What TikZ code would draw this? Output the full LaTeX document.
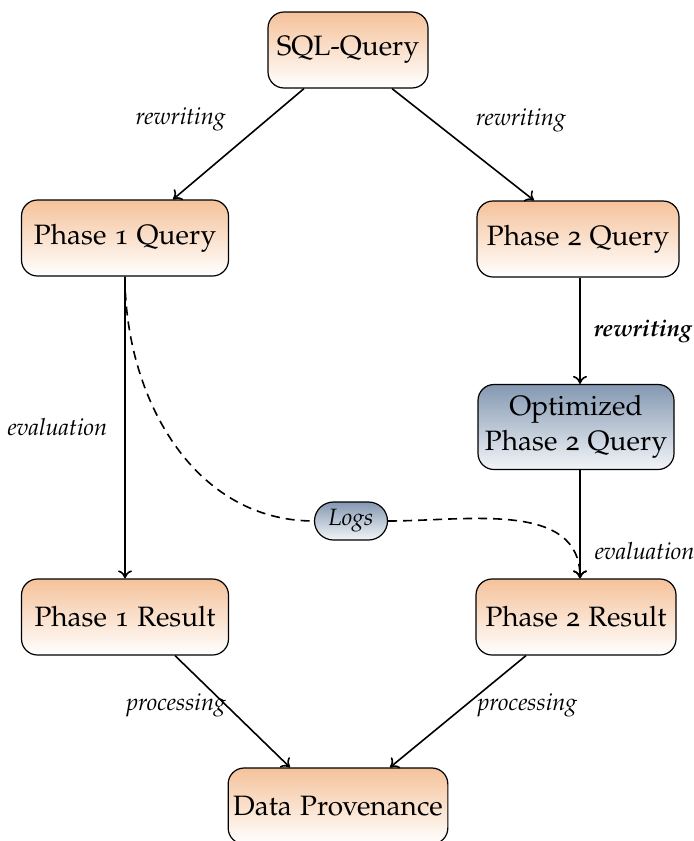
\documentclass[tikz,border=0pt]{standalone}
\usepackage[T1]{fontenc}
\usepackage[osf]{mathpazo}
\usetikzlibrary{arrows.meta}

\definecolor{peach}{RGB}{245,194,154}
\definecolor{steel}{RGB}{132,152,178}
\definecolor{mist}{RGB}{242,245,248}

\begin{document}
\begin{tikzpicture}[x=0.5pt,y=-0.5pt,
  box/.style={draw, rounded corners=8pt, line width=0.6pt,
    top color=peach, bottom color=white,
    minimum height=38pt, inner sep=3pt, align=center,
    font=\fontsize{14}{17.5}\selectfont},
  bluebox/.style={box, top color=steel, bottom color=mist},
  lbl/.style={font=\fontsize{11.8}{14}\selectfont\itshape, inner sep=2pt},
  flow/.style={-{To[length=4pt,width=7pt]}, line width=0.8pt},
  trace/.style={dash pattern=on 4.5pt off 3pt, line width=0.8pt},
]
\useasboundingbox (0,0) rectangle (693,841);

% query nodes
\node[box, minimum width=80pt]   (sql) at (348,50)  {SQL-Query};
\node[box, minimum width=103.5pt] (p1q) at (125,238) {Phase 1 Query};
\node[box, minimum width=101pt]  (p2q) at (578,239) {Phase 2 Query};
\node[bluebox, minimum width=98pt, minimum height=42.5pt] (opt) at (576,427) {Optimized\\Phase 2 Query};
\node[bluebox, rounded corners=9.5pt, minimum width=36.5pt, minimum height=19pt,
      inner sep=1pt, font=\fontsize{11.8}{14}\selectfont\itshape] (logs) at (351,521) {Logs};

% result nodes
\node[box, minimum width=103.5pt] (p1r) at (125,617) {Phase 1 Result};
\node[box, minimum width=100pt]   (p2r) at (576,617) {Phase 2 Result};
\node[box, inner xsep=2.5pt, minimum width=104.5pt] (dp)  at (338,806) {Data Provenance};

% rewriting steps
\draw[flow] ([xshift=-22pt]sql.south) -- node[lbl, midway, above left=4pt] {rewriting} ([xshift=24pt]p1q.north);
\draw[flow] ([xshift=22pt]sql.south) -- node[lbl, midway, above right=4pt] {rewriting} ([xshift=-22pt]p2q.north);
\draw[flow] ([xshift=1pt]p2q.south) -- node[lbl, midway, right=4.5pt] {\bfseries rewriting} ([xshift=2pt]opt.north);

% evaluation steps
\draw[flow] (p1q.south) -- node[lbl, midway, left=6.5pt] {evaluation} (p1r.north);
\draw[flow] ([xshift=2pt]opt.south) -- node[lbl, pos=0.75, right=5pt] {evaluation} ([xshift=2pt]p2r.north);

% logged information flowing into the second phase
\draw[trace] (p1q.south) to[out=-90, in=180] (logs.west);
\draw[trace, -{To[length=4pt,width=7pt]}] (logs.east) to[out=0, in=90] ([xshift=2pt]p2r.north);

% processing into provenance
\draw[flow] ([xshift=25pt]p1r.south) -- node[lbl, pos=0.45, left=1pt, xshift=3pt] {processing} ([xshift=-24pt]dp.north);
\draw[flow] ([xshift=-25pt]p2r.south) -- node[lbl, pos=0.45, right=4pt] {processing} ([xshift=26pt]dp.north);
\end{tikzpicture}
\end{document}
